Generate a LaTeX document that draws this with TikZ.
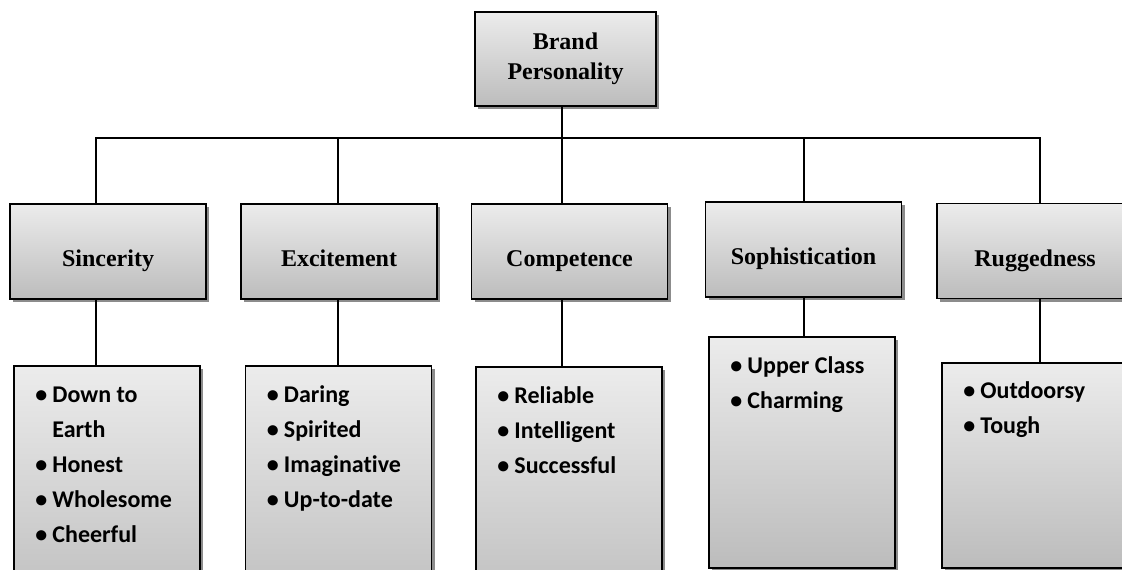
\documentclass[tikz,border=0pt]{standalone}
\usepackage{fontspec}
\setmainfont{Liberation Serif}
\newfontfamily\calfont[Ligatures=NoCommon]{Carlito}
\usetikzlibrary{shadows}
\definecolor{gtop}{HTML}{ECECEC}
\definecolor{gbot}{HTML}{BCBCBC}
\definecolor{shd}{HTML}{8C8C8C}
\tikzset{
 box/.style={draw=black, line width=1.5pt, rectangle, inner sep=0pt, top color=gtop, bottom color=gbot,
   drop shadow={shadow xshift=3pt, shadow yshift=-3pt, fill=shd, opacity=1}},
 cat/.style={box, minimum width=196pt, minimum height=95pt, font=\bfseries\fontsize{24}{30}\selectfont, align=center,
   text height=30pt, text depth=0pt},
 lst/.style={box, minimum width=186pt},
 items/.style={anchor=base west, inner sep=0pt, font=\calfont\bfseries\fontsize{24}{35}\selectfont},
 conn/.style={line width=1.5pt}
}
\newcommand{\bul}{\makebox[17pt][l]{\textbullet}}
\begin{document}
\begin{tikzpicture}[x=1pt,y=-1pt]
\useasboundingbox (0,0) rectangle (1122,570);
\clip (0,0) rectangle (1122,570);
\fill[white] (0,0) rectangle (1122,570);
% top
\node[box, minimum width=181pt, minimum height=94pt, font=\bfseries\fontsize{24}{30}\selectfont, align=center] (bp) at (565.5,59) {Brand\\Personality};
% categories
\node[cat] (sin) at (108,251.5) {Sincerity};
\node[cat] (exc) at (339,251.5) {Excitement};
\node[cat] (com) at (569.5,251.5) {Competence};
\node[cat] (sop) at (803.5,249.5) {Sophistication};
\node[cat] (rug) at (1035,251) {Ruggedness};
% lists
\node[lst, minimum height=254pt] (sinl) at (107,493) {};
\node[lst, minimum height=254pt] (excl) at (338.5,493) {};
\node[lst, minimum height=253pt] (coml) at (569,493.5) {};
\node[lst, minimum height=231pt] (sopl) at (802,452.5) {};
\node[lst, minimum height=205pt] (rugl) at (1035,465.5) {};
\node[items] (sint) at ([shift={(22,37)}]sinl.north west) {\begin{tabular}[t]{@{}l@{}l@{}}\bul&Down to\\&Earth\\\bul&Honest\\\bul&Wholesome\\\bul&Cheerful\end{tabular}};
\node[items] (exct) at ([shift={(22,37)}]excl.north west) {\begin{tabular}[t]{@{}l@{}l@{}}\bul&Daring\\\bul&Spirited\\\bul&Imaginative\\\bul&Up-to-date\end{tabular}};
\node[items] (comt) at ([shift={(22,37)}]coml.north west) {\begin{tabular}[t]{@{}l@{}l@{}}\bul&Reliable\\\bul&Intelligent\\\bul&Successful\end{tabular}};
\node[items] (sopt) at ([shift={(22,37)}]sopl.north west) {\begin{tabular}[t]{@{}l@{}l@{}}\bul&Upper Class\\\bul&Charming\end{tabular}};
\node[items] (rugt) at ([shift={(22,36)}]rugl.north west) {\begin{tabular}[t]{@{}l@{}l@{}}\bul&Outdoorsy\\\bul&Tough\end{tabular}};
% connectors
\coordinate (x1) at (96,138);
\coordinate (x2) at (338,138);
\coordinate (x3) at (562,138);
\coordinate (x4) at (804,138);
\coordinate (x5) at (1040,138);
\draw[conn] (bp.south -| x3) -- (x3);
\draw[conn] (x1 |- sin.north) -- (x1) -- (x5) -- (x5 |- rug.north);
\draw[conn] (x2) -- (x2 |- exc.north);
\draw[conn] (x3) -- (x3 |- com.north);
\draw[conn] (x4) -- (x4 |- sop.north);
\draw[conn] (x1 |- sin.south) -- (x1 |- sinl.north);
\draw[conn] (x2 |- exc.south) -- (x2 |- excl.north);
\draw[conn] (x3 |- com.south) -- (x3 |- coml.north);
\draw[conn] (x4 |- sop.south) -- (x4 |- sopl.north);
\draw[conn] (x5 |- rug.south) -- (x5 |- rugl.north);
\end{tikzpicture}
\end{document}
